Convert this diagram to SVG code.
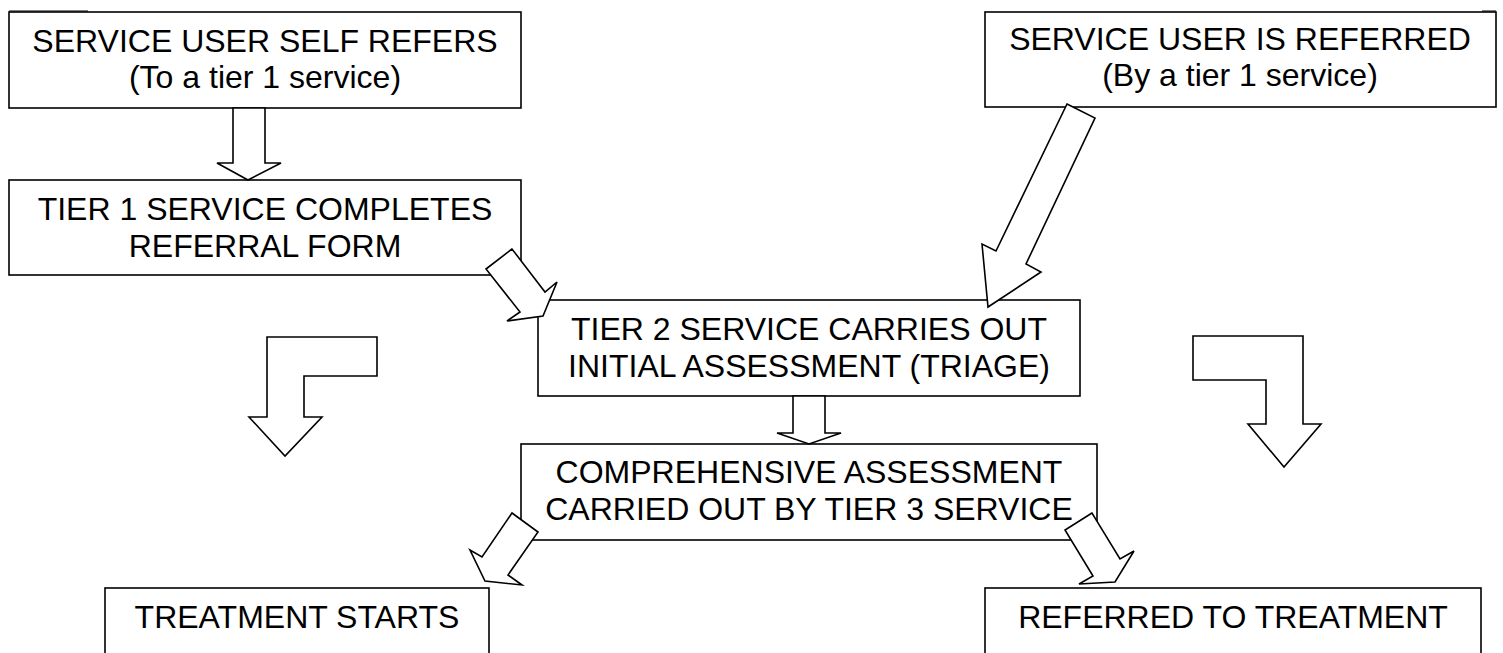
<svg xmlns="http://www.w3.org/2000/svg" width="1503" height="653" viewBox="0 0 1503 653">
<style>
.box{fill:#fff;stroke:#000;stroke-width:1.6}
.arr{fill:#fff;stroke:#000;stroke-width:1.6;stroke-linejoin:miter}
.t{font-family:"Liberation Sans",Arial,sans-serif;font-size:32px;fill:#000;text-anchor:middle}
</style>
<rect width="1503" height="653" fill="#fff"/>
<g id="n1"><rect class="box" x="9" y="12" width="512" height="96"/><text class="t" x="265" y="52">SERVICE USER SELF REFERS</text><text class="t" x="265" y="88">(To a tier 1 service)</text></g>
<g id="n2"><rect class="box" x="9" y="180" width="512" height="95"/><text class="t" x="265" y="220">TIER 1 SERVICE COMPLETES</text><text class="t" x="265" y="257">REFERRAL FORM</text></g>
<g id="n3"><rect class="box" x="985" y="12" width="511" height="95"/><text class="t" x="1240" y="50">SERVICE USER IS REFERRED</text><text class="t" x="1240" y="86">(By a tier 1 service)</text></g>
<g id="n4"><rect class="box" x="538" y="300" width="542" height="96"/><text class="t" x="809" y="340">TIER 2 SERVICE CARRIES OUT</text><text class="t" x="809" y="377">INITIAL ASSESSMENT (TRIAGE)</text></g>
<g id="n5"><rect class="box" x="521" y="444" width="576" height="96"/><text class="t" x="809" y="483">COMPREHENSIVE ASSESSMENT</text><text class="t" x="809" y="520">CARRIED OUT BY TIER 3 SERVICE</text></g>
<g id="n6"><rect class="box" x="105" y="588" width="384" height="110"/><text class="t" x="297" y="628">TREATMENT STARTS</text></g>
<g id="n7"><rect class="box" x="985" y="588" width="496" height="110"/><text class="t" x="1233" y="628">REFERRED TO TREATMENT</text></g>
<g id="connectors">
<polygon class="arr" points="233,108 265,108 265,163 281,163 248,180 217,163 233,163"/>
<polygon class="arr" points="512,249 486,269 520,312 507,321 543,316 557,282 545,292"/>
<polygon class="arr" points="1067,104 1095,118 1026,264 1041,272 988,307 982,244 996,251"/>
<polygon class="arr" points="793,396 825,396 825,433 841,433 809,444 777,433 793,433"/>
<polygon class="arr" points="512,513 538,532 508,575 522,585 485,581 470,550 482,557"/>
<polygon class="arr" points="1092,513 1065,530 1093,576 1079,584 1115,582 1134,551 1120,559"/>
<polygon class="arr" points="267,337 377,337 377,376 304,376 304,417 322,417 285,456 249,417 267,417"/>
<polygon class="arr" points="1193,336 1303,336 1303,424 1321,424 1284,467 1248,424 1266,424 1266,380 1193,380"/>
</g>
<line x1="9" y1="11" x2="88" y2="11" stroke="#000" stroke-width="1"/>
<line x1="1482" y1="11" x2="1496" y2="11" stroke="#000" stroke-width="1"/>
</svg>
